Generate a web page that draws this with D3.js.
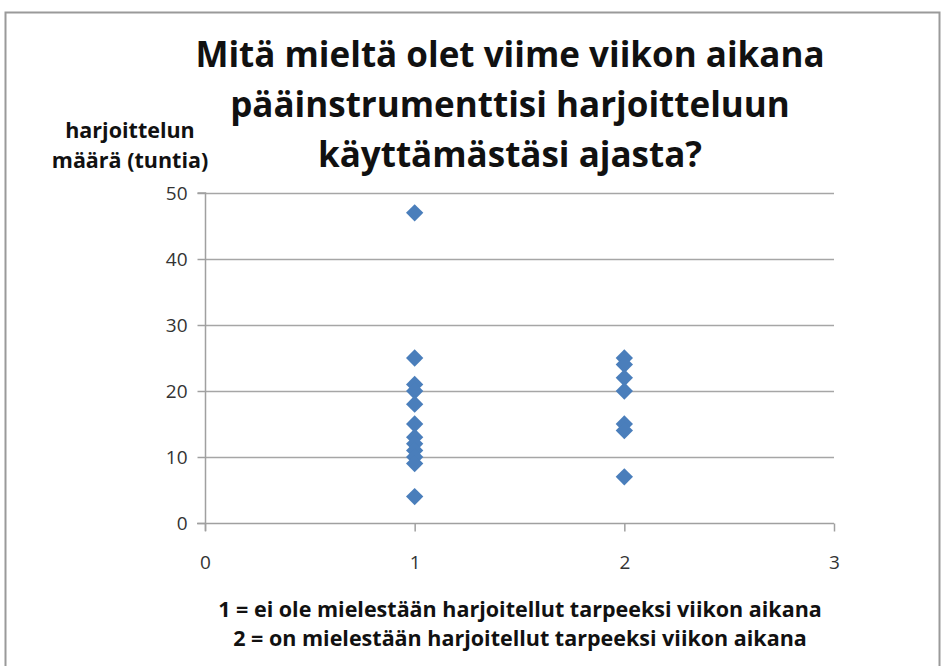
<!DOCTYPE html>
<html lang="fi">
<head>
<meta charset="utf-8">
<title>Harjoittelun määrä</title>
<script src="https://d3js.org/d3.v7.min.js"></script>
<style type="text/css">
body {
	margin: 0;
	background: white;
}
text {
	font-family: "Open Sans", Lato, sans-serif;
}
</style>
</head>
<body>
<script type="text/javascript">

// data
var groups = [1, 2];
var hoursGroup1 = [47, 25, 21, 20, 18, 15, 13, 12, 11, 10, 9, 4];
var hoursGroup2 = [25, 24, 22, 20, 15, 14, 7];
var xTicks = [0, 1, 2, 3];
var yTicks = [0, 10, 20, 30, 40, 50];

var titleLines = ["Mitä mieltä olet viime viikon aikana", "pääinstrumenttisi harjoitteluun", "käyttämästäsi ajasta?"];
var yTitleLines = ["harjoittelun", "määrä (tuntia)"];
var noteLines = ["1 = ei ole mielestään harjoitellut tarpeeksi viikon aikana", "2 = on mielestään harjoitellut tarpeeksi viikon aikana"];

const width = 945;
const height = 666;

var points = [];
hoursGroup1.forEach(function(v) { points.push({x: groups[0], y: v}); });
hoursGroup2.forEach(function(v) { points.push({x: groups[1], y: v}); });

var xScale = d3.scaleLinear().domain([0, 3]).range([205, 834]);
var yScale = d3.scaleLinear().domain([0, 50]).range([523, 193]);

var svg = d3.select("body")
	.append("svg")
	.attr("width", width)
	.attr("height", height);

// chart frame
svg.append("rect")
	.attr("x", 5.5)
	.attr("y", 12.5)
	.attr("width", 934)
	.attr("height", 700)
	.attr("fill", "white")
	.attr("stroke", "#9a9a9a")
	.attr("stroke-width", 2);

// gridlines
svg.append("g").selectAll("line")
	.data(yTicks.slice(1))
	.enter()
	.append("line")
	.attr("x1", xScale(0))
	.attr("x2", xScale(3))
	.attr("y1", function(d) { return yScale(d) + 0.5; })
	.attr("y2", function(d) { return yScale(d) + 0.5; })
	.attr("stroke", "#a6a6a6")
	.attr("stroke-width", 1.5);

var yAxis = svg.append("g")
	.attr("transform", "translate(" + (xScale(0) + 0.5) + ",0)")
	.call(d3.axisLeft(yScale).tickValues(yTicks).tickFormat(d3.format("d")).tickSize(8).tickPadding(10));

var xAxis = svg.append("g")
	.attr("transform", "translate(0," + (yScale(0) + 0.5) + ")")
	.call(d3.axisBottom(xScale).tickValues(xTicks).tickFormat(d3.format("d")).tickSize(8).tickPadding(24));

[yAxis, xAxis].forEach(function(ax) {
	ax.select(".domain").attr("stroke", "#a0a0a0").attr("stroke-width", 1.5);
	ax.selectAll(".tick line").attr("stroke", "#a0a0a0").attr("stroke-width", 1.5);
	ax.selectAll(".tick text")
		.style("font-family", "'Open Sans', sans-serif")
		.style("font-size", "19px")
		.attr("fill", "#333");
});
yAxis.select(".domain").attr("d", "M-8," + yScale(50) + "H0V" + (yScale(0) + 8));
xAxis.select(".domain").attr("d", "M" + (xScale(0) - 8) + ",0H" + xScale(3));

// diamonds
svg.append("g").selectAll("path")
	.data(points)
	.enter()
	.append("path")
	.attr("d", d3.symbol().type(d3.symbolSquare).size(150))
	.attr("transform", function(d) {
		return "translate(" + xScale(d.x) + "," + yScale(d.y) + ") rotate(45)";
	})
	.attr("fill", "#4a7ebb");

// title
svg.append("g").selectAll("text")
	.data(titleLines)
	.enter()
	.append("text")
	.attr("x", 510)
	.attr("y", function(d, i) { return 67 + i * 50; })
	.attr("text-anchor", "middle")
	.style("font-size", "35px")
	.style("font-weight", "bold")
	.attr("fill", "#111")
	.text(function(d) { return d; });

// y axis title
svg.append("g").selectAll("text")
	.data(yTitleLines)
	.enter()
	.append("text")
	.attr("x", 130)
	.attr("y", function(d, i) { return 138 + i * 30; })
	.attr("text-anchor", "middle")
	.style("font-size", "21.5px")
	.style("font-weight", "bold")
	.attr("fill", "#111")
	.text(function(d) { return d; });

// explanation under x axis
svg.append("g").selectAll("text")
	.data(noteLines)
	.enter()
	.append("text")
	.attr("x", 520)
	.attr("y", function(d, i) { return 617 + i * 29; })
	.attr("text-anchor", "middle")
	.style("font-size", "21.5px")
	.style("font-weight", "bold")
	.attr("fill", "#111")
	.text(function(d) { return d; });

</script>
</body>
</html>
